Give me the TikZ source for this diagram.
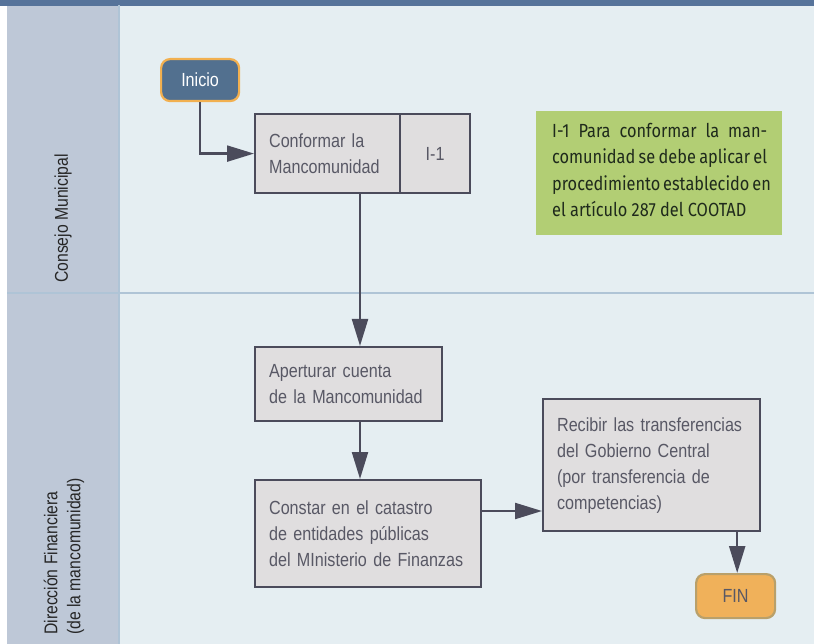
\documentclass[tikz,border=0pt]{standalone}
\usepackage{fontspec}
\usetikzlibrary{arrows.meta}
\newfontfamily\condfont[FakeStretch=0.85]{Liberation Sans}
\newfontfamily\notefont[FakeStretch=0.86]{Fira Sans}
\definecolor{barblue}{HTML}{56739A}
\definecolor{lanecol}{HTML}{BEC8D7}
\definecolor{lanebg}{HTML}{E5EEF2}
\definecolor{laneline}{HTML}{AFC4D6}
\definecolor{boxfill}{HTML}{E0DEDF}
\definecolor{boxline}{HTML}{4B4B5B}
\definecolor{boxtext}{HTML}{585865}
\definecolor{startfill}{HTML}{52708F}
\definecolor{startline}{HTML}{F2B050}
\definecolor{endfill}{HTML}{F0B15A}
\definecolor{endline}{HTML}{B9A06A}
\definecolor{notefill}{HTML}{B2CE74}
\definecolor{notetext}{HTML}{1F2A1C}
\tikzset{
  stepbox/.style={draw=boxline, fill=boxfill, line width=2.2pt, rectangle,
    anchor=north west, inner sep=0pt, align=left, text=boxtext,
    font=\condfont\fontsize{19}{26}\selectfont},
  terminal/.style={rounded corners=9pt, line width=2.2pt, anchor=north west,
    inner sep=0pt, font=\condfont\fontsize{19}{24}\selectfont},
  flow/.style={draw=boxline, line width=2.2pt,
    -{Triangle[length=27pt,width=16pt]}},
  lanelabel/.style={rotate=90, anchor=west, align=left, text=black!85,
    inner sep=0pt, font=\condfont\fontsize{18.5}{23}\selectfont},
}
\begin{document}
\begin{tikzpicture}[x=1pt, y=-1pt]
\useasboundingbox (0,0) rectangle (814,644);
\fill[white] (0,0) rectangle (814,644);
% swimlane frame
\fill[lanebg] (7,5) rectangle (814,644);
\fill[lanecol] (7,5) rectangle (118,644);
\fill[barblue] (0,0) rectangle (814,6);
\draw[laneline, line width=1.8pt] (119,5) -- (119,644);
\draw[laneline, line width=1.8pt] (7,293) -- (814,293);
% lane titles
\node[lanelabel] (lane1) at (63,283) {Consejo Municipal};
\node[lanelabel] (lane2) at (64,635) {Dirección Financiera\\(de la mancomunidad)};
% flow nodes
\node[terminal, draw=startline, fill=startfill, text=white,
  minimum width=78pt, minimum height=42pt] (inicio) at (160,58) {Inicio};
\node[stepbox, minimum width=145pt, minimum height=79pt,
  text width=117pt] (conformar) at (254,113) {Conformar la\\Mancomunidad};
\node[stepbox, minimum width=70pt, minimum height=79pt, align=center,
  text width=70pt] (ref) at (399,113) {I-1};
\node[fill=notefill, anchor=north west, minimum width=246pt,
  minimum height=124pt, inner sep=0pt] (note) at (536,111) {};
\node[anchor=north west, inner sep=0pt, text=notetext, align=left,
  font=\notefont\fontsize{19}{26.5}\selectfont] (notetxt) at (552,123)
  {\makebox[215pt][s]{I-1 Para conformar la man-}\\
   \makebox[215pt][s]{comunidad se debe aplicar el}\\
   \makebox[215pt][s]{procedimiento establecido en}\\
   el artículo 287 del COOTAD};
\node[stepbox, minimum width=187pt, minimum height=74pt,
  text width=159pt] (apertura) at (254,346) {Aperturar cuenta\\de la Mancomunidad};
\node[stepbox, minimum width=226pt, minimum height=107pt,
  text width=198pt] (constar) at (254,479)
  {Constar en el catastro\\de entidades públicas\\del MInisterio de Finanzas};
\node[stepbox, minimum width=217pt, minimum height=132pt,
  text width=189pt] (recibir) at (542,398)
  {Recibir las transferencias\\del Gobierno Central\\(por transferencia de\\competencias)};
\node[terminal, draw=endline, fill=endfill, text=boxtext,
  minimum width=79pt, minimum height=44pt] (fin) at (695,573) {FIN};
% connectors
\draw[flow] (inicio.south) |- (conformar.west);
\draw[flow] ([xshift=106pt]conformar.south west) -- ([xshift=106pt]conformar.south west |- apertura.north);
\draw[flow] ([xshift=106pt]apertura.south west) -- ([xshift=106pt]apertura.south west |- constar.north);
\draw[flow] ([yshift=-32pt]constar.north east) -- ([yshift=-32pt]constar.north east -| recibir.west);
\draw[flow] ([xshift=-24pt]recibir.south east) -- ([xshift=-24pt]recibir.south east |- fin.north);
\end{tikzpicture}
\end{document}
